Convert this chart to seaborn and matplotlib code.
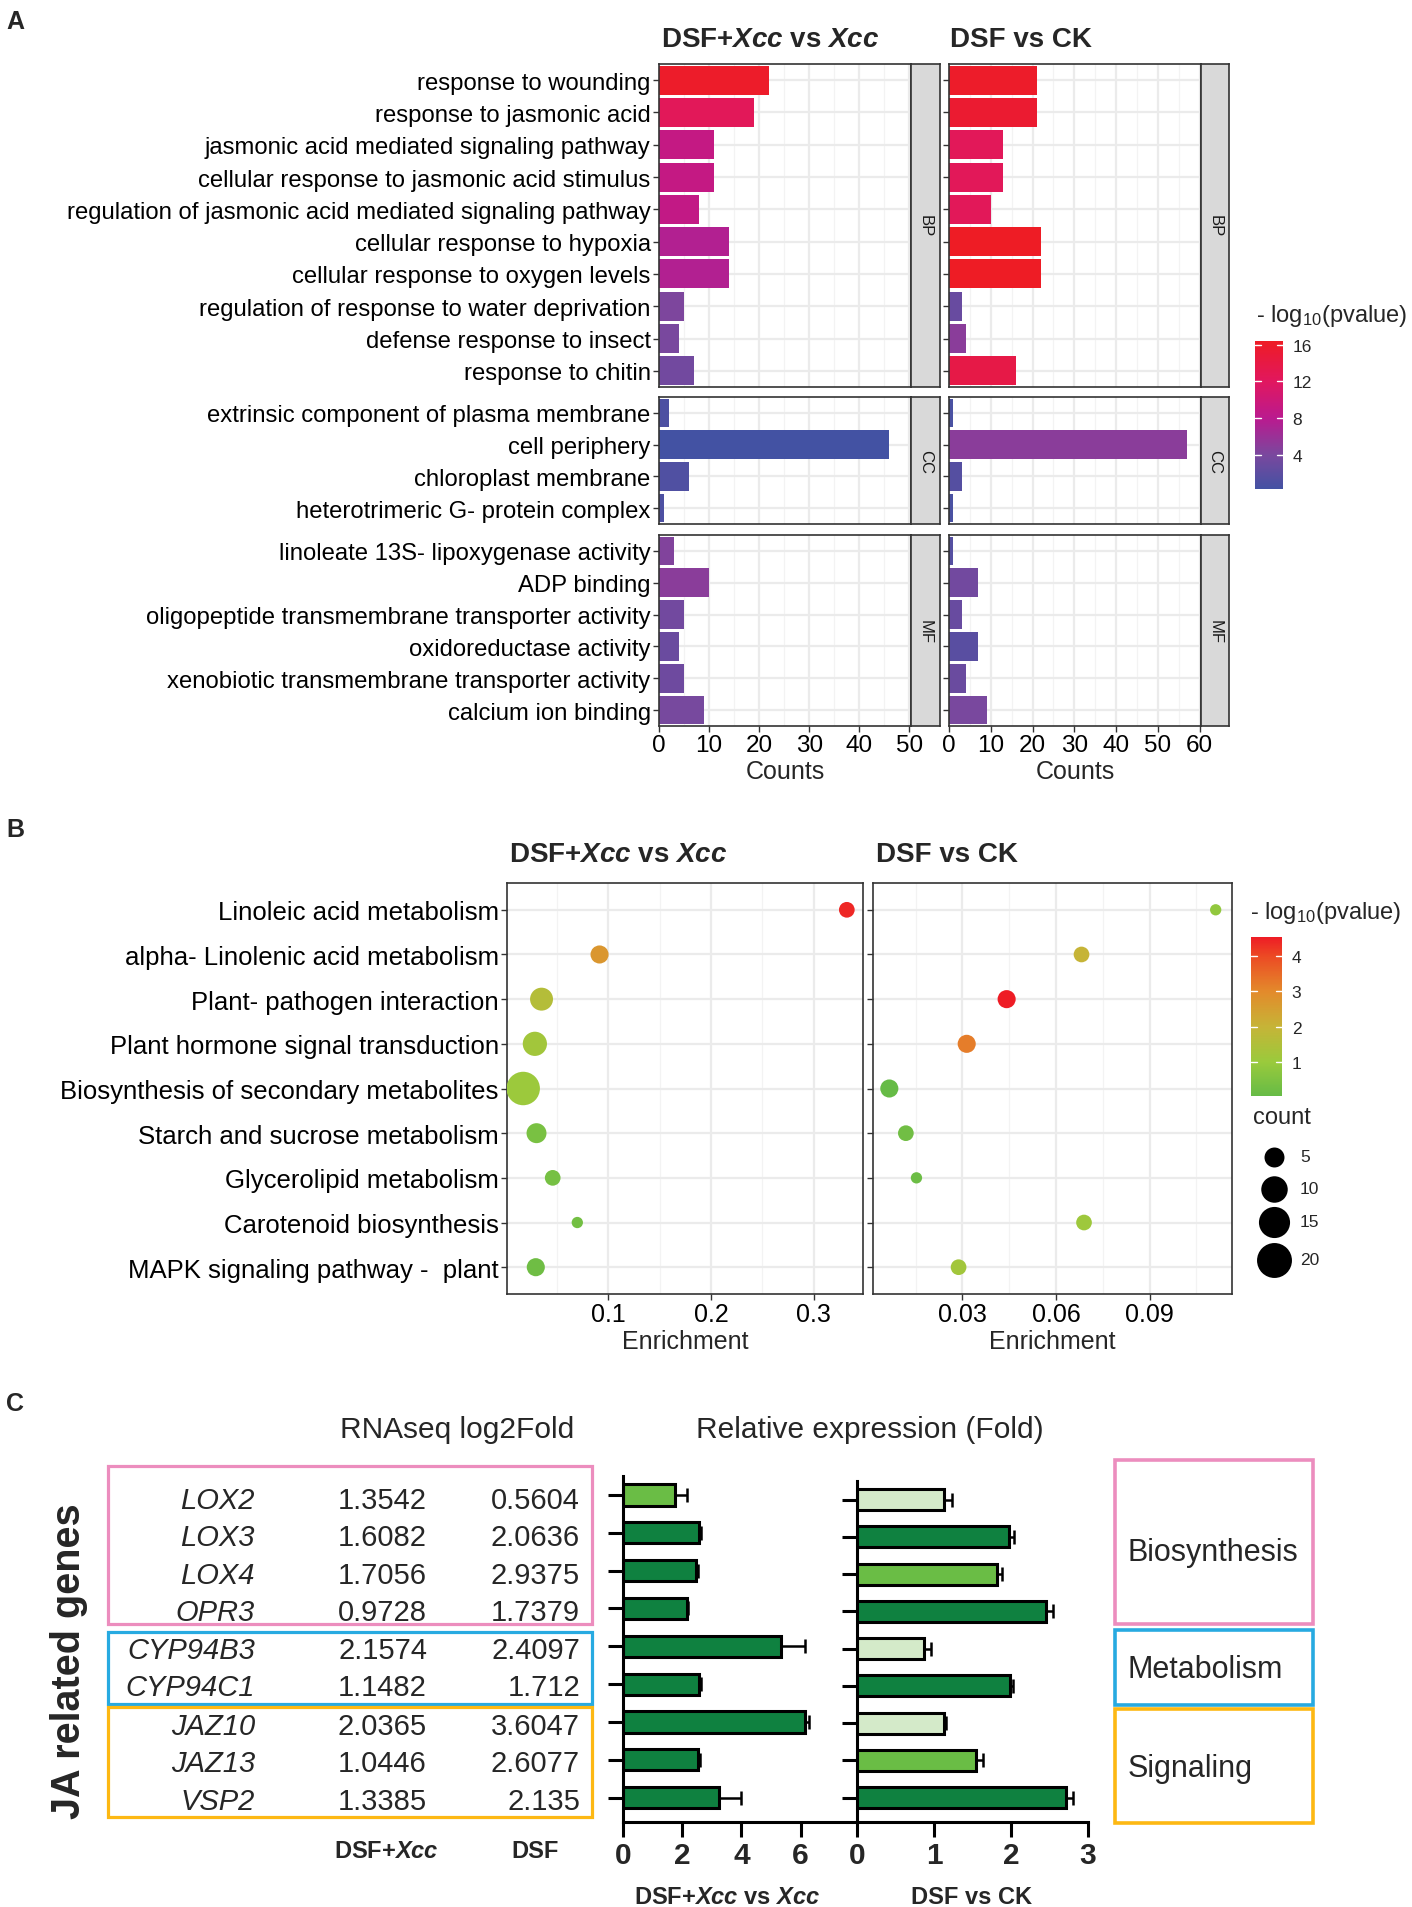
import numpy as np
import pandas as pd
import matplotlib
matplotlib.use("Agg")
import matplotlib.pyplot as plt
import seaborn as sns
from matplotlib.colors import LinearSegmentedColormap, Normalize
from matplotlib.patches import Rectangle
from matplotlib.ticker import MultipleLocator
from matplotlib import transforms

W, H = 1412, 1908

# ---------------- A : GO enrichment (counts + -log10 p) ----------------
bp_terms = ["response to wounding", "response to jasmonic acid",
            "jasmonic acid mediated signaling pathway",
            "cellular response to jasmonic acid stimulus",
            "regulation of jasmonic acid mediated signaling pathway",
            "cellular response to hypoxia", "cellular response to oxygen levels",
            "regulation of response to water deprivation",
            "defense response to insect", "response to chitin"]
cc_terms = ["extrinsic component of plasma membrane", "cell periphery",
            "chloroplast membrane", "heterotrimeric G- protein complex"]
mf_terms = ["linoleate 13S- lipoxygenase activity", "ADP binding",
            "oligopeptide transmembrane transporter activity",
            "oxidoreductase activity",
            "xenobiotic transmembrane transporter activity",
            "calcium ion binding"]

cnt_xcc_bp = [22, 19, 11, 11, 8, 14, 14, 5, 4, 7]
cnt_xcc_cc = [2, 46, 6, 1]
cnt_xcc_mf = [3, 10, 5, 4, 5, 9]
cnt_ck_bp = [21, 21, 13, 13, 10, 22, 22, 3, 4, 16]
cnt_ck_cc = [1, 57, 3, 1]
cnt_ck_mf = [1, 7, 3, 7, 4, 9]

lp_xcc_bp = [16.0, 12.5, 9.0, 9.0, 8.8, 7.5, 7.5, 4.2, 4.0, 3.5]
lp_xcc_cc = [1.0, 0.3, 1.2, 1.0]
lp_xcc_mf = [4.5, 5.0, 3.5, 3.0, 3.2, 3.8]
lp_ck_bp = [16.0, 15.5, 12.5, 12.5, 12.5, 16.4, 16.4, 2.8, 5.0, 13.8]
lp_ck_cc = [0.8, 5.0, 1.5, 0.8]
lp_ck_mf = [1.5, 3.5, 2.8, 1.8, 3.0, 4.0]

# ---------------- B : KEGG enrichment ----------------
kegg_terms = ["Linoleic acid metabolism", "alpha- Linolenic acid metabolism",
              "Plant- pathogen interaction", "Plant hormone signal transduction",
              "Biosynthesis of secondary metabolites", "Starch and sucrose metabolism",
              "Glycerolipid metabolism", "Carotenoid biosynthesis",
              "MAPK signaling pathway -  plant"]
enr_xcc = [0.3325, 0.0913, 0.0347, 0.0282, 0.0168, 0.0298, 0.0456, 0.0696, 0.0291]
enr_ck = [0.1112, 0.0682, 0.0442, 0.0314, 0.0066, 0.0119, 0.0153, 0.0690, 0.0288]
kcnt_xcc = [3, 4, 7, 8, 18, 5, 3, 2, 4]
kcnt_ck = [2, 3, 4, 4, 4, 3, 2, 3, 3]
klp_xcc = [4.4, 2.7, 1.6, 1.2, 1.05, 0.4, 0.35, 0.3, 0.2]
klp_ck = [0.85, 2.0, 4.54, 3.2, 0.04, 0.25, 0.15, 1.1, 1.2]
count_breaks = [5, 10, 15, 20]

# ---------------- C : JA related genes ----------------
genes = ["LOX2", "LOX3", "LOX4", "OPR3", "CYP94B3", "CYP94C1", "JAZ10", "JAZ13", "VSP2"]
log2_xcc = [1.3542, 1.6082, 1.7056, 0.9728, 2.1574, 1.1482, 2.0365, 1.0446, 1.3385]
log2_dsf = [0.5604, 2.0636, 2.9375, 1.7379, 2.4097, 1.712, 3.6047, 2.6077, 2.135]
rel_xcc = [1.75, 2.55, 2.45, 2.16, 5.33, 2.56, 6.16, 2.53, 3.23]
err_xcc = [0.42, 0.08, 0.09, 0.05, 0.83, 0.07, 0.13, 0.06, 0.75]
rel_ck = [1.13, 1.98, 1.82, 2.45, 0.87, 1.99, 1.13, 1.55, 2.71]
err_ck = [0.11, 0.06, 0.06, 0.10, 0.09, 0.03, 0.03, 0.08, 0.10]
lvl_xcc = ["mid", "dark", "dark", "dark", "dark", "dark", "dark", "dark", "dark"]
lvl_ck = ["light", "dark", "mid", "dark", "light", "dark", "light", "mid", "dark"]
groups = [("Biosynthesis", 0, 3), ("Metabolism", 4, 5), ("Signaling", 6, 8)]

# ---------------- style ----------------
sns.set_theme(style="white")
plt.rcParams["font.family"] = ["Liberation Sans", "DejaVu Sans"]
plt.rcParams["mathtext.fontset"] = "custom"
plt.rcParams["mathtext.rm"] = "Liberation Sans"
plt.rcParams["mathtext.it"] = "Liberation Sans:italic:bold"
plt.rcParams["mathtext.bf"] = "Liberation Sans:bold"

go_cmap = LinearSegmentedColormap.from_list(
    "go", [(0, "#4352A3"), (0.23, "#7A489E"), (0.478, "#BA1A8F"),
           (0.727, "#E1175F"), (1, "#EE1C25")])
all_go = lp_xcc_bp + lp_xcc_cc + lp_xcc_mf + lp_ck_bp + lp_ck_cc + lp_ck_mf
go_norm = Normalize(min(all_go), max(all_go))

kegg_cmap = LinearSegmentedColormap.from_list(
    "kegg", [(0, "#66BB46"), (0.213, "#9ACA3C"), (0.436, "#C6B437"),
             (0.658, "#E38A2B"), (0.88, "#EC4A24"), (1, "#EE1C25")])
all_k = klp_xcc + klp_ck
kegg_norm = Normalize(min(all_k), max(all_k))

green_pal = {"dark": "#0F8140", "mid": "#6ABD45", "light": "#D4EAC9"}
GRID = "#EBEBEB"
BORDER = "#333333"

fig = plt.figure(figsize=(W / 100, H / 100), dpi=100)


def px_axes(x0, y0, x1, y1):
    return fig.add_axes([x0 / W, 1 - y1 / H, (x1 - x0) / W, (y1 - y0) / H])


def dot_area(c):
    d = 9.4 + 6.0 * np.sqrt(c - 1.9)   # diameter in px
    return (d * 0.72) ** 2


# ---------------- panel A ----------------
def go_panel(ax, terms, counts, lps, xmax, labels, xaxis):
    df = pd.DataFrame({"term": terms, "count": counts})
    pal = dict(zip(terms, [go_cmap(go_norm(v)) for v in lps]))
    sns.barplot(data=df, x="count", y="term", hue="term", palette=pal, legend=False,
                width=0.9, saturation=1, linewidth=0, ax=ax)
    ax.set_xlim(0, xmax)
    ax.set_ylim(len(terms) - 0.5, -0.5)
    ax.xaxis.set_major_locator(MultipleLocator(10))
    ax.xaxis.set_minor_locator(MultipleLocator(5))
    ax.set_axisbelow(True)
    ax.grid(True, which="major", color=GRID, lw=1.6)
    ax.grid(True, which="minor", axis="x", color="#F3F3F3", lw=0.9)
    ax.set_xlabel("")
    ax.set_ylabel("")
    for sp in ax.spines.values():
        sp.set_visible(True)
        sp.set_color(BORDER)
        sp.set_linewidth(1.2)
    ax.tick_params(axis="both", which="major", length=4, width=1, color=BORDER,
                   labelcolor="black", pad=2)
    ax.tick_params(axis="y", left=True, labelsize=17.2, labelleft=labels)
    ax.tick_params(axis="x", which="minor", length=0)
    if xaxis:
        ax.tick_params(axis="x", bottom=True, labelbottom=True, labelsize=17.5)
        ax.set_xlabel("Counts", fontsize=18, labelpad=2)
    else:
        ax.tick_params(axis="x", bottom=False, labelbottom=False)


def strip(x0, y0, x1, y1, txt):
    s = px_axes(x0, y0, x1, y1)
    s.set_facecolor("#D9D9D9")
    s.set_xticks([])
    s.set_yticks([])
    for sp in s.spines.values():
        sp.set_visible(True)
        sp.set_color(BORDER)
        sp.set_linewidth(1.2)
    s.text(0.5, 0.5, txt, rotation=270, ha="center", va="center", fontsize=12,
           color="#1A1A1A", transform=s.transAxes)


rows = [(65, 388, bp_terms, "BP", cnt_xcc_bp, lp_xcc_bp, cnt_ck_bp, lp_ck_bp, False),
        (398, 525, cc_terms, "CC", cnt_xcc_cc, lp_xcc_cc, cnt_ck_cc, lp_ck_cc, False),
        (536, 727, mf_terms, "MF", cnt_xcc_mf, lp_xcc_mf, cnt_ck_mf, lp_ck_mf, True)]
for y0, y1, terms, lab, c1, p1, c2, p2, last in rows:
    go_panel(px_axes(659, y0, 911, y1), terms, c1, p1, 50.3, True, last)
    strip(911, y0, 940, y1, lab)
    go_panel(px_axes(949, y0, 1201, y1), terms, c2, p2, 60.3, False, last)
    strip(1201, y0, 1229, y1, lab)


def colorbar(x0, y0, x1, y1, cmap, norm, ticks):
    cax = px_axes(x0, y0, x1, y1)
    sm = plt.cm.ScalarMappable(norm=norm, cmap=cmap)
    cb = fig.colorbar(sm, cax=cax, ticks=ticks)
    cb.outline.set_visible(False)
    cax.tick_params(length=0, labelsize=12.5, pad=7)
    tr = transforms.blended_transform_factory(cax.transAxes, cax.transData)
    for t in ticks:
        cax.plot([0, 0.2], [t, t], color="white", lw=1, transform=tr)
        cax.plot([0.8, 1], [t, t], color="white", lw=1, transform=tr)


colorbar(1255, 342, 1283, 490, go_cmap, go_norm, [4, 8, 12, 16])


# ---------------- panel B ----------------
size_map = {c: dot_area(c) for c in sorted(set(kcnt_xcc + kcnt_ck))}


def kegg_panel(ax, enr, cnt, lps, labels, major, minor):
    df = pd.DataFrame({"term": kegg_terms, "enr": enr, "count": cnt, "lp": lps})
    sns.scatterplot(data=df, x="enr", y="term", hue="lp", palette=kegg_cmap,
                    hue_norm=kegg_norm, size="count", sizes=size_map, legend=False,
                    linewidth=0, ax=ax, zorder=3)
    lo, hi = min(enr), max(enr)
    pad = 0.05 * (hi - lo)
    ax.set_xlim(lo - pad, hi + pad)
    ax.set_ylim(len(kegg_terms) - 0.4, -0.6)
    ax.xaxis.set_major_locator(MultipleLocator(major))
    ax.xaxis.set_minor_locator(MultipleLocator(minor))
    ax.set_axisbelow(True)
    ax.grid(True, which="major", color=GRID, lw=1.6)
    ax.grid(True, which="minor", axis="x", color="#F3F3F3", lw=0.9)
    for sp in ax.spines.values():
        sp.set_visible(True)
        sp.set_color(BORDER)
        sp.set_linewidth(1.2)
    ax.tick_params(axis="both", which="major", length=4, width=1, color=BORDER,
                   labelcolor="black", pad=2, bottom=True, left=True)
    ax.tick_params(axis="x", which="minor", length=0)
    ax.tick_params(axis="x", labelsize=18)
    ax.tick_params(axis="y", labelsize=18.5, labelleft=labels)
    ax.set_xlabel("Enrichment", fontsize=18, labelpad=2)
    ax.set_ylabel("")


kegg_panel(px_axes(507, 884, 863, 1295), enr_xcc, kcnt_xcc, klp_xcc, True, 0.1, 0.05)
kegg_panel(px_axes(873, 884, 1232, 1295), enr_ck, kcnt_ck, klp_ck, False, 0.03, 0.015)
colorbar(1251, 938, 1282, 1097, kegg_cmap, kegg_norm, [1, 2, 3, 4])


# ---------------- panel C ----------------
def rel_panel(ax, vals, errs, lvls, xmax, ticks, ytop, ybot):
    df = pd.DataFrame({"gene": genes, "fold": vals, "lvl": lvls})
    sns.barplot(data=df, x="fold", y="gene", hue="lvl", palette=green_pal, dodge=False,
                legend=False, width=0.56, saturation=1, edgecolor="black",
                linewidth=2.2, ax=ax)
    ax.errorbar(vals, np.arange(len(genes)), xerr=[np.zeros(len(vals)), errs],
                fmt="none", ecolor="black", elinewidth=1.8, capsize=4.7, capthick=1.8)
    ax.set_xlim(0, xmax)
    ax.set_ylim(ybot, ytop)
    ax.set_xticks(ticks)
    ax.set_xlabel("")
    ax.set_ylabel("")
    sns.despine(ax=ax)
    for side in ["left", "bottom"]:
        ax.spines[side].set_color("black")
        ax.spines[side].set_linewidth(2.2)
    ax.tick_params(axis="both", length=11, width=2.2, color="black", left=True,
                   bottom=True, labelleft=False, pad=3)
    ax.tick_params(axis="x", labelsize=21.5)
    for t in ax.get_xticklabels():
        t.set_fontweight("bold")


rel_panel(px_axes(623, 1477, 857, 1823), rel_xcc, err_xcc, lvl_xcc, 7.9,
          [0, 2, 4, 6], -0.503, 8.646)
rel_panel(px_axes(857, 1482, 1088, 1823), rel_ck, err_ck, lvl_ck, 3.0,
          [0, 1, 2, 3], -0.5, 8.656)

# ---------------- overlay: titles, legends, table ----------------
ov = fig.add_axes([0, 0, 1, 1])
ov.set_xlim(0, W)
ov.set_ylim(H, 0)
ov.axis("off")

for lab, y in [("A", 22), ("B", 830), ("C", 1404)]:
    ov.text(6, y, lab, fontsize=18, fontweight="bold", ha="left", va="center")

xcc_title = r"DSF+$\mathit{Xcc}$ vs $\mathit{Xcc}$"
ov.text(661, 40, xcc_title, fontsize=20, fontweight="bold", ha="left", va="center")
ov.text(950, 40, "DSF vs CK", fontsize=20, fontweight="bold", ha="left", va="center")
ov.text(509, 855, xcc_title, fontsize=20, fontweight="bold", ha="left", va="center")
ov.text(876, 855, "DSF vs CK", fontsize=20, fontweight="bold", ha="left", va="center")

ov.text(1256, 316, r"- log$_{10}$(pvalue)", fontsize=17, ha="left", va="center")
ov.text(1250, 913, r"- log$_{10}$(pvalue)", fontsize=17, ha="left", va="center")
ov.text(1253, 1118, "count", fontsize=17, ha="left", va="center")
for i, c in enumerate(count_breaks):
    y = [1158, 1190, 1223, 1261][i]
    ov.scatter([1274], [y], s=dot_area(c), color="black", linewidth=0)
    ov.text(1300, y, str(c), fontsize=12.5, ha="left", va="center")

# table of RNAseq log2 fold
ov.text(457, 1430, "RNAseq log2Fold", fontsize=21.5, ha="center", va="center")
ov.text(870, 1430, "Relative expression (Fold)", fontsize=21.5, ha="center", va="center")
row_y = [1501, 1538, 1576, 1613, 1651, 1688, 1727, 1764, 1802]
for g, a, b, y in zip(genes, log2_xcc, log2_dsf, row_y):
    ov.text(255, y, g, fontsize=21, fontstyle="italic", ha="right", va="center")
    ov.text(427, y, f"{a:g}", fontsize=21, ha="right", va="center")
    ov.text(580, y, f"{b:g}", fontsize=21, ha="right", va="center")
ov.text(69, 1661, "JA related genes", fontsize=28.5, fontweight="bold", rotation=90,
        ha="center", va="center")
ov.text(386, 1852, r"DSF+$\mathit{Xcc}$", fontsize=17, fontweight="bold",
        ha="center", va="center")
ov.text(535, 1852, "DSF", fontsize=17, fontweight="bold", ha="center", va="center")
ov.text(727, 1898, xcc_title, fontsize=17, fontweight="bold", ha="center", va="center")
ov.text(972, 1898, "DSF vs CK", fontsize=17, fontweight="bold", ha="center", va="center")

box_cols = ["#EC8DBE", "#27AAE1", "#FDB813"]
left_boxes = [(1467, 1625), (1633, 1705), (1708, 1818)]
right_boxes = [(1461, 1625), (1631, 1706), (1710, 1824)]
label_y = [1553, 1670, 1769]
for (name, _, _), col, (ly0, ly1), (ry0, ry1), ty in zip(groups, box_cols, left_boxes,
                                                         right_boxes, label_y):
    ov.add_patch(Rectangle((108, ly0), 484, ly1 - ly0, fill=False, edgecolor=col, lw=2.3))
    ov.add_patch(Rectangle((1115, ry0), 198, ry1 - ry0, fill=False, edgecolor=col, lw=2.6))
    ov.text(1128, ty, name, fontsize=22, ha="left", va="center")

fig.savefig("out.png", dpi=100)
